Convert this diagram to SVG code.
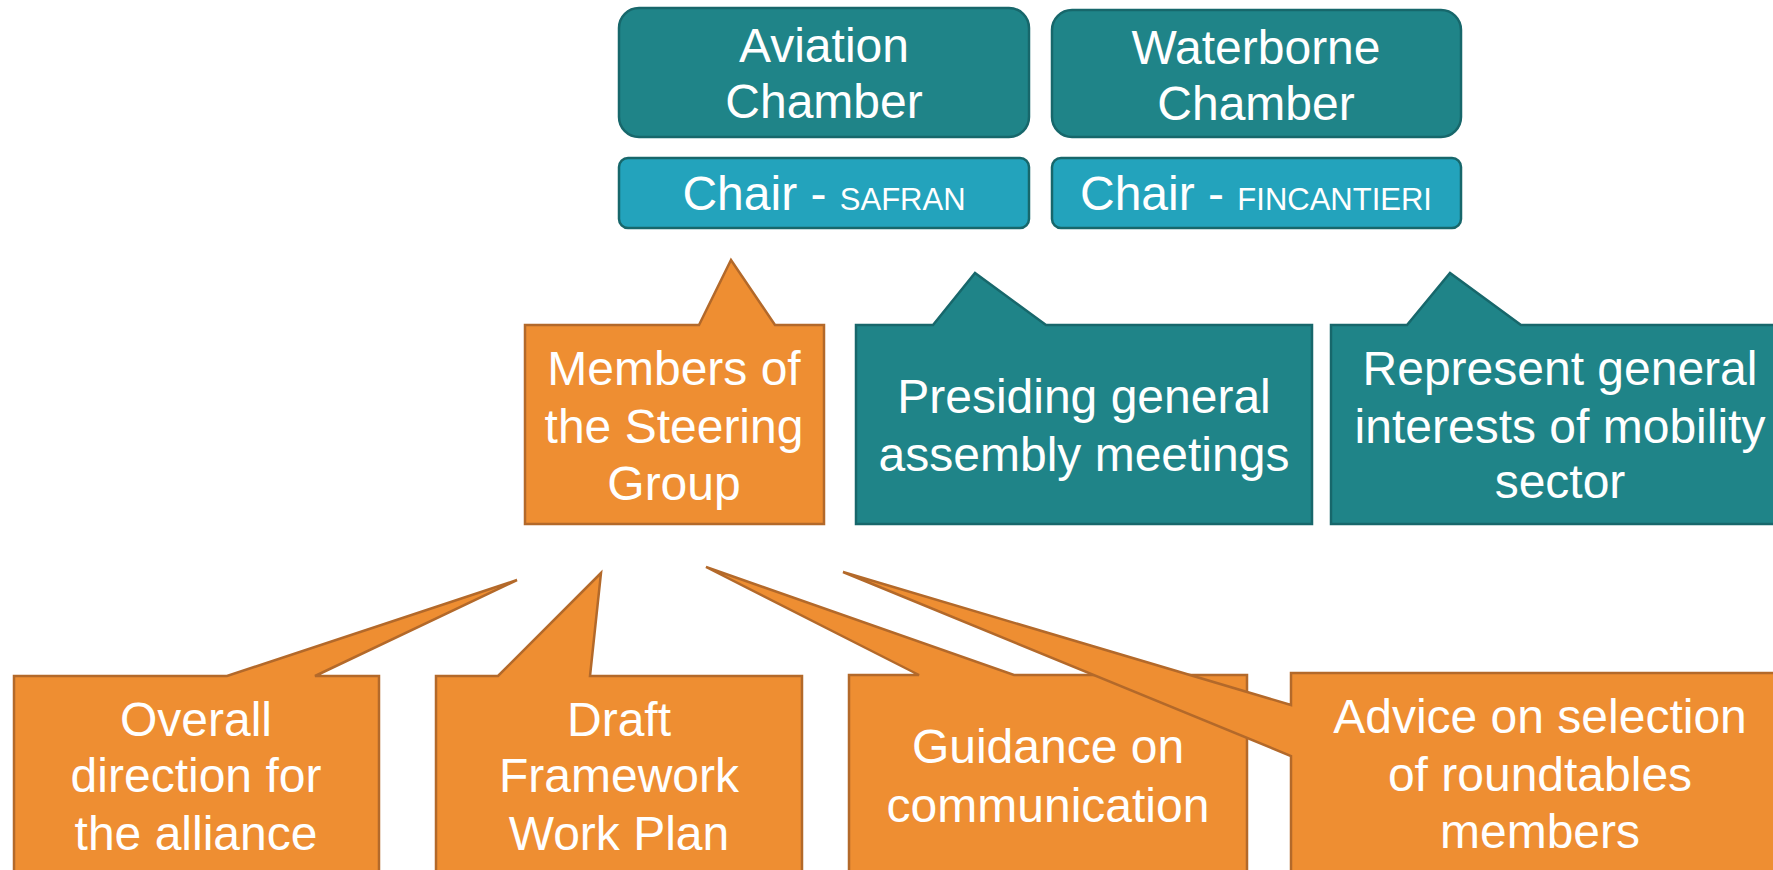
<svg xmlns="http://www.w3.org/2000/svg" width="1773" height="870" viewBox="0 0 1773 870">
<style>
.teal{fill:#1F8488;stroke:#17676B;stroke-width:2.5}
.chair{fill:#23A3BC;stroke:#17676B;stroke-width:2.5}
.orange{fill:#EE8E32;stroke:#B3692A;stroke-width:2.5;stroke-linejoin:miter}
text{font-family:"Liberation Sans",Arial,sans-serif;fill:#FFFFFF;text-anchor:middle;font-size:48px}
.small{font-size:31px}
</style>
<rect width="1773" height="870" fill="#FFFFFF"/>
<g id="aviation-chamber">
<rect class="teal" x="619" y="8" width="410" height="129" rx="20"/>
<text x="824" y="62">Aviation</text>
<text x="824" y="118">Chamber</text>
</g>
<g id="waterborne-chamber">
<rect class="teal" x="1052" y="10" width="409" height="127" rx="20"/>
<text x="1256" y="64">Waterborne</text>
<text x="1256" y="120">Chamber</text>
</g>
<g id="chair-safran">
<rect class="chair" x="619" y="158" width="410" height="70" rx="9"/>
<text x="824" y="210">Chair - <tspan class="small">SAFRAN</tspan></text>
</g>
<g id="chair-fincantieri">
<rect class="chair" x="1052" y="158" width="409" height="70" rx="9"/>
<text x="1256" y="210">Chair - <tspan class="small">FINCANTIERI</tspan></text>
</g>
<g id="steering-group">
<path class="orange" d="M525,325 L699,325 L731,260 L775,325 L824,325 L824,524 L525,524 Z"/>
<text x="674" y="385">Members of</text>
<text x="674" y="443">the Steering</text>
<text x="674" y="500">Group</text>
</g>
<g id="presiding">
<path class="teal" d="M856,325 L933,325 L975,273 L1046,325 L1312,325 L1312,524 L856,524 Z"/>
<text x="1084" y="413">Presiding general</text>
<text x="1084" y="471">assembly meetings</text>
</g>
<g id="represent">
<path class="teal" d="M1331,325 L1407,325 L1450,273 L1521,325 L1790,325 L1790,524 L1331,524 Z"/>
<text x="1560" y="385">Represent general</text>
<text x="1560" y="443">interests of mobility</text>
<text x="1560" y="498">sector</text>
</g>
<g id="overall-direction">
<path class="orange" d="M14,676 L227,676 L517,580 L315,676 L379,676 L379,890 L14,890 Z"/>
<text x="196" y="736">Overall</text>
<text x="196" y="792">direction for</text>
<text x="196" y="850">the alliance</text>
</g>
<g id="draft-framework">
<path class="orange" d="M436,676 L498,676 L601,573 L590,676 L802,676 L802,890 L436,890 Z"/>
<text x="619" y="736">Draft</text>
<text x="619" y="792">Framework</text>
<text x="619" y="850">Work Plan</text>
</g>
<g id="guidance-communication">
<path class="orange" d="M849,675 L919,675 L706,567 L1014,675 L1247,675 L1247,890 L849,890 Z"/>
<text x="1048" y="763">Guidance on</text>
<text x="1048" y="822">communication</text>
</g>
<g id="advice-roundtables">
<path class="orange" d="M1291,673 L1790,673 L1790,890 L1291,890 L1291,756 L843,572 L1291,705 Z"/>
<text x="1540" y="733">Advice on selection</text>
<text x="1540" y="791">of roundtables</text>
<text x="1540" y="848">members</text>
</g>
<g id="connectors"/>
</svg>
